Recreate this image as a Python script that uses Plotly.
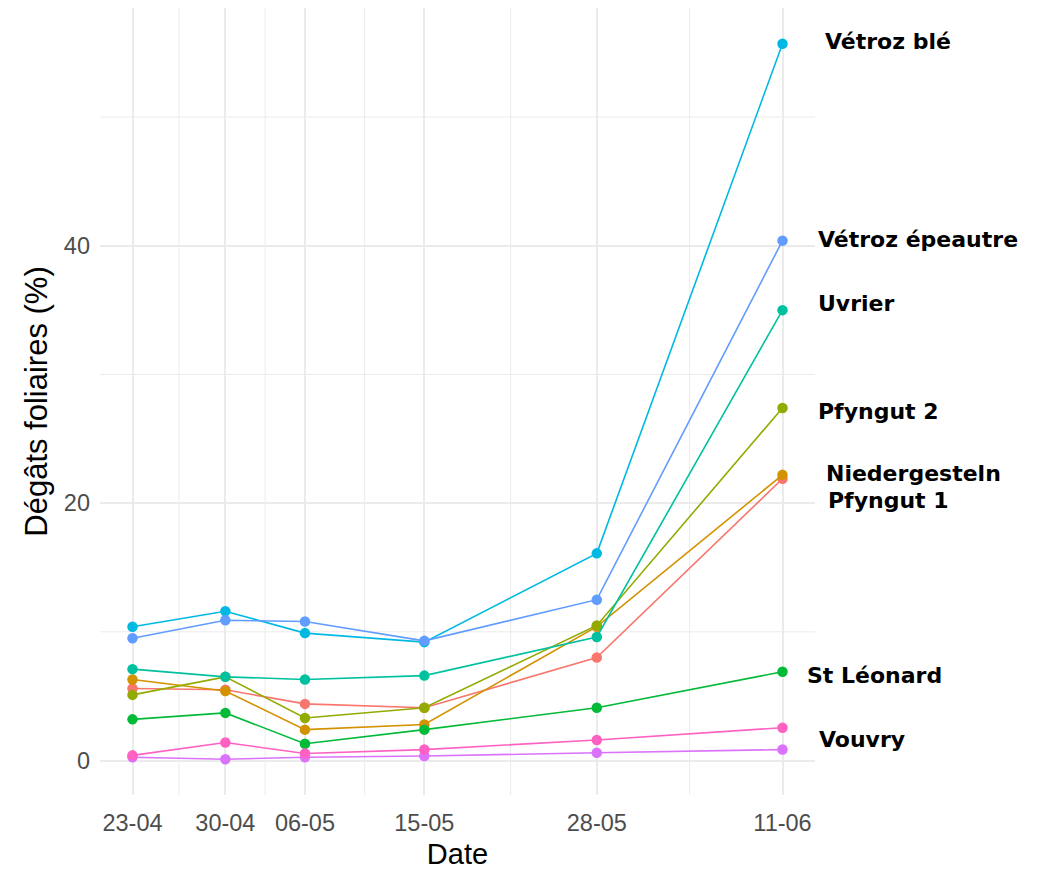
import plotly.graph_objects as go
import pandas as pd

dates = ["2021-04-23", "2021-04-30", "2021-05-06", "2021-05-15", "2021-05-28", "2021-06-11"]
tick_labels = ["23-04", "30-04", "06-05", "15-05", "28-05", "11-06"]

series_names = ["Niedergesteln", "Pfyngut 1", "Pfyngut 2", "St Léonard", "Uvrier",
                "Vétroz blé", "Vétroz épeautre", "Vouvry", "Vouvry (2)"]
series_colors = ["#F8766D", "#D39200", "#93AA00", "#00BA38", "#00C19F",
                 "#00B9E3", "#619CFF", "#DB72FB", "#FF61C3"]

niedergesteln = [5.6, 5.5, 4.4, 4.1, 8.0, 21.9]
pfyngut1 = [6.3, 5.4, 2.4, 2.8, 10.4, 22.2]
pfyngut2 = [5.1, 6.5, 3.3, 4.1, 10.5, 27.4]
st_leonard = [3.2, 3.7, 1.3, 2.4, 4.1, 6.9]
uvrier = [7.1, 6.5, 6.3, 6.6, 9.6, 35.0]
vetroz_ble = [10.4, 11.6, 9.9, 9.2, 16.1, 55.7]
vetroz_epeautre = [9.5, 10.9, 10.8, 9.3, 12.5, 40.4]
vouvry_violet = [0.25, 0.1, 0.25, 0.35, 0.6, 0.85]
vouvry_pink = [0.4, 1.4, 0.55, 0.85, 1.6, 2.55]

series_values = [niedergesteln, pfyngut1, pfyngut2, st_leonard, uvrier,
                 vetroz_ble, vetroz_epeautre, vouvry_violet, vouvry_pink]

# end-of-line labels (text, label y value, horizontal offset)
label_texts = ["Vétroz blé", "Vétroz épeautre", "Uvrier", "Pfyngut 2",
               "Niedergesteln", "Pfyngut 1", "St Léonard", "Vouvry"]
label_y = [55.9, 40.5, 35.5, 27.1, 22.3, 20.2, 6.6, 1.6]
label_shift = [40, 33, 33, 33, 41, 43, 22, 34]

y_major = [0, 20, 40]
y_minor = [10, 30, 50]

x = pd.to_datetime(dates)

fig = go.Figure()
for name, color, vals in zip(series_names, series_colors, series_values):
    fig.add_trace(go.Scatter(
        x=x, y=vals, name=name, mode="lines+markers",
        line=dict(color=color, width=1.6),
        marker=dict(color=color, size=10.5),
        showlegend=False, cliponaxis=False,
    ))

for t, yv, sh in zip(label_texts, label_y, label_shift):
    fig.add_annotation(
        x=x[-1], y=yv, xref="x", yref="y", text="<b>" + t + "</b>",
        showarrow=False, xanchor="left", yanchor="middle", xshift=sh,
        font=dict(family="DejaVu Sans", size=22, color="black"),
    )

grid_col = "#EBEBEB"
# minor vertical gridlines at midpoints between date breaks
mids = [x[i] + (x[i + 1] - x[i]) / 2 for i in range(len(x) - 1)]
for m in mids:
    fig.add_shape(type="line", x0=m, x1=m, xref="x", y0=0, y1=1, yref="paper",
                  line=dict(color=grid_col, width=1), layer="below")
for yv in y_minor:
    fig.add_shape(type="line", x0=0, x1=1, xref="paper", y0=yv, y1=yv, yref="y",
                  line=dict(color=grid_col, width=1), layer="below")

span = (x[-1] - x[0])
xr = [x[0] - span * 0.05, x[-1] + span * 0.05]
all_vals = [v for s in series_values for v in s]
ymin, ymax = min(all_vals), max(all_vals)
yspan = ymax - ymin

fig.update_layout(
    width=1033, height=862,
    paper_bgcolor="white", plot_bgcolor="white",
    margin=dict(l=92, r=226, t=0, b=75),
    font=dict(family="Liberation Sans, Arial", color="#4D4D4D"),
    xaxis=dict(
        range=xr, tickvals=x, ticktext=tick_labels, automargin=False,
        showgrid=True, gridcolor=grid_col, gridwidth=1.6,
        zeroline=False, showline=False, ticks="",
        tickfont=dict(size=23.5, color="#4D4D4D"), ticklabelstandoff=11,
        title=dict(text="Date", font=dict(size=29, color="black"), standoff=14),
    ),
    yaxis=dict(
        range=[ymin - 0.05 * yspan, ymax + 0.05 * yspan], automargin=False,
        tickvals=y_major, showgrid=True, gridcolor=grid_col, gridwidth=1.6,
        zeroline=False, showline=False, ticks="",
        tickfont=dict(size=23.5, color="#4D4D4D"), ticklabelstandoff=9,
        title=dict(text="Dégâts foliaires (%)", font=dict(size=31, color="black"), standoff=7),
    ),
)

fig.write_html("out.html")
